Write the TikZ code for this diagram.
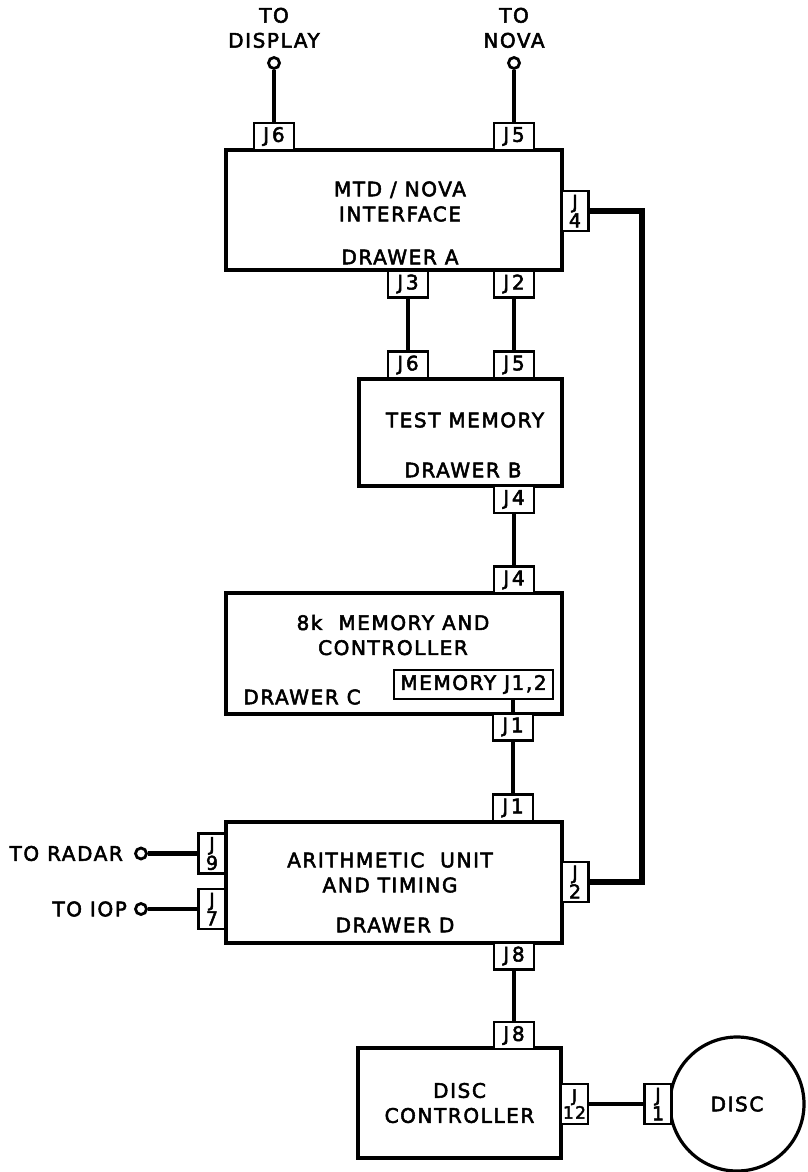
\documentclass[tikz,border=0pt]{standalone}
\usepackage{fontspec}
\setmainfont{DejaVu Sans}
\newfontfamily\lettering[LetterSpace=8,FakeBold=2.6]{DejaVu Sans}
\newfontfamily\jackfont[LetterSpace=14,FakeBold=2.6]{DejaVu Sans}
\usetikzlibrary{positioning,calc}

\begin{document}
\begin{tikzpicture}[x=1pt,y=-1pt,
  every node/.style={font=\lettering\fontsize{20}{25}\selectfont},
  drawer/.style={draw,line width=3.2pt,inner sep=0pt},
  jack/.style={draw,line width=2.8pt,fill=white,minimum width=40pt,minimum height=27pt,
               inner sep=0pt,font=\jackfont\fontsize{20}{20}\selectfont},
  sidejack/.style={jack,minimum width=27pt,minimum height=40pt,align=center,
                   font=\lettering\fontsize{19}{17}\selectfont},
  term/.style={circle,draw,line width=2.8pt,minimum size=11pt,inner sep=0pt},
  wire/.style={line width=4.4pt},
  bus/.style={line width=5.4pt},
  txt/.style={align=center,inner sep=0pt}
]
\useasboundingbox (0,0) rectangle (808,1172);

% drawers
\node[drawer,minimum width=336pt,minimum height=120pt] (drA) at (394,210) {};
\node[txt] (drAname) at (400,201.5) {MTD / NOVA\\INTERFACE};
\node[txt] (drAlbl) at (400,257) {DRAWER A};

\node[drawer,minimum width=203pt,minimum height=107pt] (drB) at (460.5,432.5) {};
\node[txt] (drBname) at (465,420) {TEST MEMORY};
\node[txt] (drBlbl) at (463,470) {DRAWER B};

\node[drawer,minimum width=336pt,minimum height=121pt] (drC) at (394,653.5) {};
\node[txt] (drCname) at (393,635) {8k\ \ MEMORY AND\\CONTROLLER};
\node[txt] (drClbl) at (302,697) {DRAWER C};
\node[draw,line width=2.8pt,minimum width=159pt,minimum height=29pt,inner sep=0pt] (mem)
  at (473.5,684.5) {MEMORY J1,2};

\node[drawer,minimum width=336pt,minimum height=121pt] (drD) at (394,882.5) {};
\node[txt] (drDname) at (390,872.5) {ARITHMETIC\ \ UNIT\\AND TIMING};
\node[txt] (drDlbl) at (395,925) {DRAWER D};

\node[drawer,minimum width=203pt,minimum height=110pt,align=center] (ctl) at (459.5,1103)
  {DISC\\CONTROLLER};
\node[circle,draw,line width=3.2pt,minimum size=134pt,inner sep=0pt] (disc) at (737,1104) {DISC};

% jacks
\node[jack] (aJ6) at (274,136.5) {J6};
\node[jack] (aJ5) at (514,136.5) {J5};
\node[sidejack] (aJ4) at (575,211) {J\\4};
\node[jack] (aJ3) at (408,284) {J3};
\node[jack] (aJ2) at (514,284) {J2};
\node[jack] (bJ6) at (408,365) {J6};
\node[jack] (bJ5) at (514,365) {J5};
\node[jack] (bJ4) at (514,499.5) {J4};
\node[jack] (cJ4) at (514,580) {J4};
\node[jack] (cJ1) at (513,727) {J1};
\node[jack] (dJ1) at (513,808) {J1};
\node[sidejack] (dJ9) at (212,853.5) {J\\9};
\node[sidejack] (dJ7) at (212,909) {J\\7};
\node[sidejack] (dJ2) at (575,882) {J\\2};
\node[jack] (dJ8) at (514,956) {J8};
\node[jack] (eJ8) at (514,1035.5) {J8};
\node[sidejack,font=\lettering\fontsize{17}{17}\selectfont] (eJ12) at (574.5,1104) {J\\12};
\node[sidejack] (fJ1) at (658,1104) {J\\1};

% terminals
\node[term] (tDisp) at (274,63) {};
\node[term] (tNova) at (514,63) {};
\node[term] (tRadar) at (141,853.5) {};
\node[term] (tIop) at (141,909) {};
\node[txt,above=8pt of tDisp] (lDisp) {TO\\DISPLAY};
\node[txt,above=8pt of tNova] (lNova) {TO\\NOVA};
\node[txt,left=11pt of tRadar] (lRadar) {TO RADAR};
\node[txt,left=7pt of tIop] (lIop) {TO IOP};

% cables
\draw[wire] (tDisp) -- (aJ6);
\draw[wire] (tNova) -- (aJ5);
\draw[wire] (aJ3) -- (bJ6);
\draw[wire] (aJ2) -- (bJ5);
\draw[wire] (bJ4) -- (cJ4);
\draw[wire] (cJ1) -- (dJ1);
\draw[wire] (dJ8) -- (eJ8);
\draw[wire] (tRadar) -- (dJ9);
\draw[wire] (tIop) -- (dJ7);
\draw[wire] (eJ12) -- (fJ1);
\draw[line width=3.2pt] (mem.south -| cJ1.north) -- (cJ1.north);
\draw[bus] (aJ4.east) -- ++(52,0) |- (dJ2.east);
\end{tikzpicture}
\end{document}
